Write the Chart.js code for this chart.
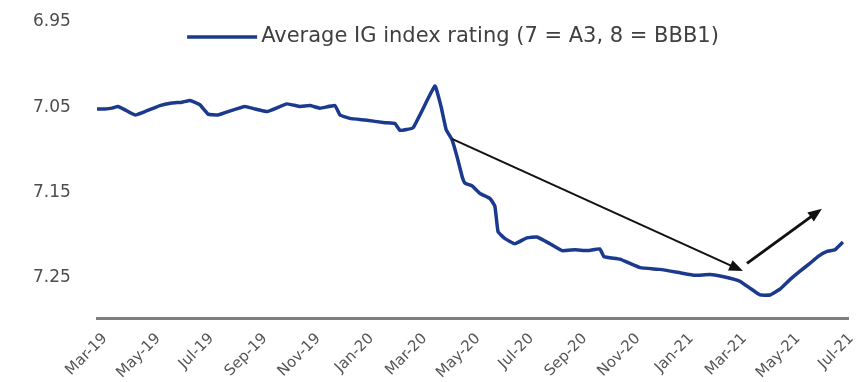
<!doctype html>
<html lang="en">
<head>
<meta charset="utf-8">
<title>Average IG index rating</title>
<style>
  html, body { margin: 0; padding: 0; background: #fff; }
  #wrap { width: 864px; height: 382px; }
</style>
</head>
<body>
<div id="wrap"><canvas id="ratingChart"></canvas></div>

<script src="https://cdn.jsdelivr.net/npm/chart.js"></script>
<script>
    // x values are months counted from Jan-19 (= 0), so Mar-19 = 2
    var tickMonths = [2, 4, 6, 8, 10, 12, 14, 16, 18, 20, 22, 24, 26, 28, 30];
    var tickLabels = ['Mar-19', 'May-19', 'Jul-19', 'Sep-19', 'Nov-19', 'Jan-20', 'Mar-20', 'May-20',
                      'Jul-20', 'Sep-20', 'Nov-20', 'Jan-21', 'Mar-21', 'May-21', 'Jul-21'];
    var ratingTicks = [6.95, 7.05, 7.15, 7.25];

    var obsMonths = [2.00, 2.30, 2.56, 2.79, 3.05, 3.43, 3.80, 4.36, 4.81, 5.19, 5.49, 5.86, 6.17, 6.54,
                     6.92, 7.55, 7.93, 8.38, 9.13, 9.62, 9.99, 10.37, 10.93, 11.12, 11.49, 12.06, 12.81,
                     13.18, 13.37, 13.86, 14.68, 14.91, 15.10, 15.32, 15.51, 15.70, 15.81, 16.07, 16.37,
                     16.75, 16.93, 17.05, 17.31, 17.68, 18.13, 18.51, 19.00, 19.45, 19.94, 20.42, 20.87,
                     21.02, 21.62, 22.38, 23.13, 23.88, 24.44, 25.00, 25.56, 26.13, 26.50, 26.88, 27.25,
                     27.63, 28.00, 28.38, 28.75, 29.05, 29.39, 29.69, 29.99];
    var avgRating = [7.052, 7.052, 7.051, 7.049, 7.053, 7.059, 7.055, 7.048, 7.045, 7.044, 7.042, 7.047,
                     7.058, 7.059, 7.055, 7.049, 7.052, 7.055, 7.046, 7.049, 7.048, 7.051, 7.048, 7.059,
                     7.063, 7.065, 7.068, 7.069, 7.077, 7.074, 7.025, 7.049, 7.076, 7.088, 7.108, 7.131,
                     7.139, 7.142, 7.151, 7.157, 7.166, 7.196, 7.204, 7.210, 7.203, 7.202, 7.210, 7.218,
                     7.217, 7.218, 7.216, 7.225, 7.228, 7.238, 7.240, 7.244, 7.247, 7.246, 7.249, 7.254,
                     7.262, 7.270, 7.270, 7.263, 7.252, 7.242, 7.233, 7.225, 7.219, 7.217, 7.208];

    // trend arrows: [fromMonth, fromRating, toMonth, toRating, lineWidth]
    var trendArrows = [
        [15.32, 7.087, 26.24, 7.242, 2],
        [26.39, 7.233, 29.20, 7.169, 3]
    ];

    var seriesLabel = 'Average IG index rating (7 = A3, 8 = BBB1)';
    var lineColor = '#1b3a8e';

    // black arrows drawn on top of the line, positioned through the scales
    var arrowPlugin = {
        id: 'trendArrows',
        afterDatasetsDraw: function(chart) {
            var ctx = chart.ctx, xs = chart.scales.x, ys = chart.scales.y;
            trendArrows.forEach(function(a) {
                var x1 = xs.getPixelForValue(a[0]), y1 = ys.getPixelForValue(a[1]);
                var x2 = xs.getPixelForValue(a[2]), y2 = ys.getPixelForValue(a[3]);
                var ang = Math.atan2(y2 - y1, x2 - x1), head = 15;
                ctx.save();
                ctx.strokeStyle = '#111';
                ctx.fillStyle = '#111';
                ctx.lineWidth = a[4];
                ctx.beginPath();
                ctx.moveTo(x1, y1);
                ctx.lineTo(x2 - Math.cos(ang) * head * 0.8, y2 - Math.sin(ang) * head * 0.8);
                ctx.stroke();
                ctx.beginPath();
                ctx.moveTo(x2, y2);
                ctx.lineTo(x2 - head * Math.cos(ang - 0.38), y2 - head * Math.sin(ang - 0.38));
                ctx.lineTo(x2 - head * Math.cos(ang + 0.38), y2 - head * Math.sin(ang + 0.38));
                ctx.closePath();
                ctx.fill();
                ctx.restore();
            });
        }
    };

    // legend sits inside the plot, above the line
    var insideLegend = {
        id: 'insideLegend',
        afterDraw: function(chart) {
            var ctx = chart.ctx, ds = chart.data.datasets[0];
            var sample = 70, gap = 4, cy = 37, centerX = 453;
            ctx.save();
            ctx.font = '21px "DejaVu Sans"';
            var tw = ctx.measureText(ds.label).width;
            var x0 = centerX - (sample + gap + tw) / 2;
            ctx.strokeStyle = ds.borderColor;
            ctx.lineWidth = ds.borderWidth;
            ctx.beginPath();
            ctx.moveTo(x0, cy);
            ctx.lineTo(x0 + sample, cy);
            ctx.stroke();
            ctx.fillStyle = '#404040';
            ctx.textBaseline = 'middle';
            ctx.fillText(ds.label, x0 + sample + gap, cy);
            ctx.restore();
        }
    };

    var ctx = document.getElementById('ratingChart').getContext('2d');
    window.ratingChart = new Chart(ctx, {
        type: 'line',
        data: {
            datasets: [{
                label: seriesLabel,
                data: obsMonths.map(function(m, i) { return {x: m, y: avgRating[i]}; }),
                borderColor: lineColor,
                backgroundColor: lineColor,
                borderWidth: 3.5,
                pointRadius: 0,
                tension: 0.1,
                fill: false
            }]
        },
        options: {
            responsive: true,
            maintainAspectRatio: false,
            animation: false,
            layout: { padding: { top: 22, right: 16, left: 33, bottom: 0 } },
            plugins: {
                legend: { display: false },
                tooltip: { enabled: false }
            },
            scales: {
                x: {
                    type: 'linear',
                    min: 2,
                    max: 30.18,
                    grid: { display: false },
                    border: { display: true, color: '#7f7f7f', width: 3 },
                    afterBuildTicks: function(s) {
                        s.ticks = tickMonths.map(function(v) { return {value: v}; });
                    },
                    afterFit: function(s) { s.height = 64; },
                    ticks: {
                        autoSkip: false,
                        minRotation: 45,
                        maxRotation: 45,
                        labelOffset: 8,
                        padding: 4,
                        color: '#555555',
                        font: { family: 'DejaVu Sans', size: 15 },
                        callback: function(v) { return tickLabels[tickMonths.indexOf(v)]; }
                    }
                },
                y: {
                    reverse: true,
                    min: 6.95,
                    max: 7.297,
                    grid: { display: false },
                    border: { display: false },
                    afterBuildTicks: function(s) {
                        s.ticks = ratingTicks.map(function(v) { return {value: v}; });
                    },
                    afterFit: function(s) { s.width = 64; },
                    ticks: {
                        padding: 0,
                        crossAlign: 'far',
                        color: '#4d4d4d',
                        font: { family: 'DejaVu Sans', size: 17 },
                        callback: function(v) { return Number(v).toFixed(2); }
                    }
                }
            }
        },
        plugins: [arrowPlugin, insideLegend]
    });
</script>
</body>
</html>
